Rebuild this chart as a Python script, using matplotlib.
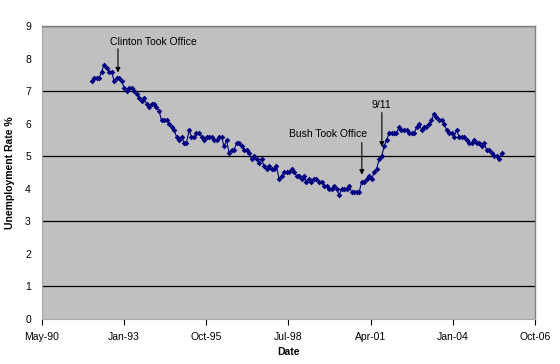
import datetime as dt
import matplotlib
matplotlib.use("Agg")
import matplotlib.pyplot as plt
import matplotlib.dates as mdates

plt.rcParams['font.family'] = ['Liberation Sans', 'DejaVu Sans']

# monthly unemployment rate, Jan 1992 .. Sep 2005
rate = [
    7.3, 7.4, 7.4, 7.4, 7.6, 7.8, 7.7, 7.6, 7.6, 7.3, 7.4, 7.4,   # 1992
    7.3, 7.1, 7.0, 7.1, 7.1, 7.0, 6.9, 6.8, 6.7, 6.8, 6.6, 6.5,   # 1993
    6.6, 6.6, 6.5, 6.4, 6.1, 6.1, 6.1, 6.0, 5.9, 5.8, 5.6, 5.5,   # 1994
    5.6, 5.4, 5.4, 5.8, 5.6, 5.6, 5.7, 5.7, 5.6, 5.5, 5.6, 5.6,   # 1995
    5.6, 5.5, 5.5, 5.6, 5.6, 5.3, 5.5, 5.1, 5.2, 5.2, 5.4, 5.4,   # 1996
    5.3, 5.2, 5.2, 5.1, 4.9, 5.0, 4.9, 4.8, 4.9, 4.7, 4.6, 4.7,   # 1997
    4.6, 4.6, 4.7, 4.3, 4.4, 4.5, 4.5, 4.5, 4.6, 4.5, 4.4, 4.4,   # 1998
    4.3, 4.4, 4.2, 4.3, 4.2, 4.3, 4.3, 4.2, 4.2, 4.1, 4.1, 4.0,   # 1999
    4.0, 4.1, 4.0, 3.8, 4.0, 4.0, 4.0, 4.1, 3.9, 3.9, 3.9, 3.9,   # 2000
    4.2, 4.2, 4.3, 4.4, 4.3, 4.5, 4.6, 4.9, 5.0, 5.3, 5.5, 5.7,   # 2001
    5.7, 5.7, 5.7, 5.9, 5.8, 5.8, 5.8, 5.7, 5.7, 5.7, 5.9, 6.0,   # 2002
    5.8, 5.9, 5.9, 6.0, 6.1, 6.3, 6.2, 6.1, 6.1, 6.0, 5.8, 5.7,   # 2003
    5.7, 5.6, 5.8, 5.6, 5.6, 5.6, 5.5, 5.4, 5.4, 5.5, 5.4, 5.4,   # 2004
    5.3, 5.4, 5.2, 5.2, 5.1, 5.0, 5.0, 4.9, 5.1,                  # 2005
]
fechas = [dt.date(1992 + i // 12, i % 12 + 1, 1) for i in range(len(rate))]

# Excel style date axis: 1000 day steps from serial 33000
x_min = dt.date(1990, 5, 7)
x_ticks = [x_min + dt.timedelta(days=1000 * k) for k in range(7)]
y_labels = list(range(10))
y_grid = [1, 3, 5, 7, 9]

fig = plt.figure(figsize=(5.6, 3.64), dpi=100)
ax = fig.add_axes([0.075, 0.1236, 0.88, 0.805])
ax.set_facecolor('#C0C0C0')

for g in y_grid:
    ax.axhline(g, color='black', linewidth=0.9, zorder=1)

ax.plot(fechas, rate, '-', color='#000080', linewidth=0.8,
        marker='D', markersize=2.9, markeredgewidth=0, zorder=3)

ax.set_xlim(x_ticks[0], x_ticks[-1])
ax.set_ylim(0, 9)
ax.set_xticks(x_ticks)
ax.xaxis.set_major_formatter(mdates.DateFormatter('%b-%y'))
ax.set_yticks(y_labels)
ax.set_yticks(y_grid, minor=True)
ax.tick_params(axis='y', which='major', length=0, labelsize=7.5, pad=8)
ax.tick_params(axis='y', which='minor', length=4, width=0.9, direction='out')
ax.tick_params(axis='x', length=4, width=0.8, labelsize=7.5, pad=5)

for s in ['left', 'bottom']:
    ax.spines[s].set_color('#A8A8A8')
    ax.spines[s].set_linewidth(0.8)
for s in ['top', 'right']:
    ax.spines[s].set_color('#808080')
    ax.spines[s].set_linewidth(1.0)

ax.set_xlabel('Date', fontsize=7.5, fontweight='bold', labelpad=4)
ax.set_ylabel('Unemployment Rate %', fontsize=7.5, fontweight='bold', labelpad=7)

flecha = dict(arrowstyle='-|>', color='black', linewidth=0.8,
              mutation_scale=7, shrinkA=0, shrinkB=0)
ax.annotate('Clinton Took Office', xy=(dt.date(1994, 1, 17), 8.52),
            fontsize=7.5, ha='center', va='center')
ax.annotate('', xy=(dt.date(1992, 11, 17), 7.57),
            xytext=(dt.date(1992, 11, 17), 8.3), arrowprops=flecha)

ax.annotate('Bush Took Office', xy=(dt.date(1999, 11, 17), 5.69),
            fontsize=7.5, ha='center', va='center')
ax.annotate('', xy=(dt.date(2001, 1, 3), 4.43),
            xytext=(dt.date(2001, 1, 3), 5.42), arrowprops=flecha)

ax.annotate('9/11', xy=(dt.date(2001, 9, 4), 6.58),
            fontsize=7.5, ha='center', va='center')
ax.annotate('', xy=(dt.date(2001, 9, 4), 5.29),
            xytext=(dt.date(2001, 9, 4), 6.34), arrowprops=flecha)

fig.savefig('out.png', dpi=100)
